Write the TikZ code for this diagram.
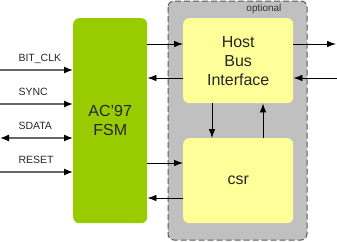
\documentclass[tikz,border=0pt]{standalone}
\usepackage{fontspec}
\setmainfont{Liberation Sans}
\usetikzlibrary{arrows.meta, positioning, backgrounds}
\definecolor{fsmgreen}{HTML}{99CC00}
\definecolor{blockyellow}{HTML}{FFFF99}
\definecolor{optgray}{HTML}{C0C0C0}
\begin{document}
\begin{tikzpicture}[x=1pt, y=-1pt,
  block/.style={rounded corners=6pt, inner sep=0pt, anchor=north west, align=center,
    text=black!85, font=\fontsize{16}{19}\selectfont},
  sig/.style={draw=black!60, line width=1.3pt, -{Latex[length=9pt,width=7pt,color=black]}},
  link/.style={draw=black, line width=0.8pt, -{Latex[length=9pt,width=6.5pt]}}]
\useasboundingbox (0,0) rectangle (337,241);
% optional region
\draw[fill=optgray, draw=black!65, line width=1pt, dash pattern=on 6pt off 3pt, rounded corners=6pt]
  (168,1) rectangle (307,240);
\node[anchor=base east, font=\fontsize{10}{12}\selectfont, text=black!80] (opt) at (285,12) {optional};
% blocks
\node[block, fill=fsmgreen, minimum width=74pt, minimum height=205pt] (fsm) at (73,18) {AC'97\\FSM};
\node[block, fill=blockyellow, minimum width=110pt, minimum height=85pt] (hbi) at (183,18) {Host\\Bus\\Interface};
\node[block, fill=blockyellow, minimum width=110pt, minimum height=85pt] (csr) at (183,138) {csr};
% external signals
\foreach \name/\ypos [count=\i] in {BIT\_CLK/70, SYNC/104, SDATA/138, RESET/172} {
    \coordinate (in\i) at (0,\ypos);
    \node[anchor=base west, font=\fontsize{10.5}{12}\selectfont, text=black!85] (lbl\i) at (15,\ypos-9) {\name};
}
\draw[sig] (in1) -- (fsm.west |- in1);
\draw[sig] (in2) -- (fsm.west |- in2);
\draw[sig, {Latex[length=9pt,width=7pt,color=black]}-{Latex[length=9pt,width=7pt,color=black]}] (in3) -- (fsm.west |- in3);
\draw[sig] (in4) -- (fsm.west |- in4);
% internal links
\draw[link] (fsm.east |- 0,44) -- (hbi.west |- 0,44);
\draw[link] (hbi.west |- 0,78) -- (fsm.east |- 0,78);
\draw[link] (fsm.east |- 0,163) -- (csr.west |- 0,163);
\draw[link] (csr.west |- 0,198) -- (fsm.east |- 0,198);
\draw[link] (hbi.south -| 212,0) -- (csr.north -| 212,0);
\draw[link] (csr.north -| 263,0) -- (hbi.south -| 263,0);
% host side
\coordinate (hostout) at (336,44);
\coordinate (hostin) at (337,78);
\draw[link] (hbi.east |- hostout) -- (hostout);
\draw[link] (hostin) -- (hbi.east |- hostin);
\end{tikzpicture}
\end{document}
